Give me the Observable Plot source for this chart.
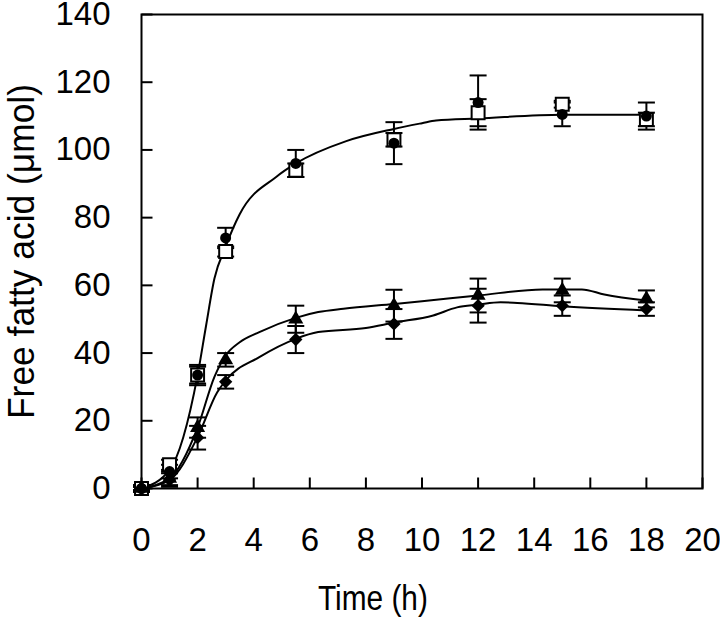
<!DOCTYPE html>
<html>
<head>
<meta charset="utf-8">
<script src="https://cdn.jsdelivr.net/npm/d3@7"></script>
<script src="https://cdn.jsdelivr.net/npm/@observablehq/plot@0.6"></script>
<style>
  html, body { margin: 0; padding: 0; background: #fff; }
  #chart svg { display: block; }
</style>
</head>
<body>
<div id="chart"></div>
<script>
// ---- data ----
const times = [0, 1, 2, 3, 5.5, 9, 12, 15, 18];
const squareMean = [0, 7, 33.5, 70, 94, 103, 111, 113.5, 109];
const squareErr  = [1, 1.5, 2.5, 1.5, 2, 2, 4, 1, 2];
const circleMean = [0, 5, 33.5, 74, 96, 102, 114, 110.5, 110];
const circleErr  = [1, 2, 3, 3, 4, 6.2, 8, 3.5, 4];
const triMean = [0, 3, 18, 38, 50, 54, 57, 58.5, 56];
const triErr  = [0.5, 2, 3, 2, 4, 4.7, 5, 3.5, 2.5];
const diaMean = [0, 2.5, 15, 31.5, 44, 48.6, 54, 54, 53];
const diaErr  = [0.5, 2, 3.5, 2, 4, 4.4, 5, 3, 2];

// fitted curves as drawn
const upperT = [0, 1, 2, 2.3, 2.6, 3, 3.5, 4.8, 5.5, 7.3, 9, 10, 10.5, 12, 15, 18];
const upperV = [0, 5.5, 33.5, 48, 62, 71.5, 81, 92, 96, 102.6, 106.2, 107.9, 108.7, 109.3, 110.4, 110.4];
const triT = [0, 1, 2, 2.6, 3, 3.5, 4.2, 5.5, 6.3, 7.2, 9, 10, 12, 14.3, 15.7, 16.5, 18];
const triV = [0, 3, 18, 33, 39.3, 43.2, 46.2, 50.4, 52.1, 53.1, 54.5, 55.3, 57, 58.8, 58.8, 57.3, 55.5];
const diaT = [0, 1, 2, 2.7, 3, 4.2, 5.5, 6.3, 8, 9, 10.4, 11.25, 12, 12.8, 13.4, 15, 18];
const diaV = [0, 2.5, 15.2, 28.4, 31.9, 38.8, 44.2, 46.2, 47.4, 49, 51.1, 53.5, 54.3, 55, 54.8, 53.8, 52.6];

const xTicks = [0, 2, 4, 6, 8, 10, 12, 14, 16, 18, 20];
const yTicks = [0, 20, 40, 60, 80, 100, 120, 140];
const xLabel = "Time (h)";
const yLabel = "Free fatty acid (μmol)";

// ---- build tables ----
const series = (mean, err) => times.map((t, i) => ({t, v: mean[i], lo: mean[i] - err[i], hi: mean[i] + err[i]}));
const sq = series(squareMean, squareErr);
const ci = series(circleMean, circleErr);
const tr = series(triMean, triErr);
const di = series(diaMean, diaErr);
const curve = (T, V) => T.map((t, i) => ({t, v: V[i]}));

// custom symbols
const capSym = {draw(ctx, size) { const r = Math.sqrt(size / Math.PI); ctx.moveTo(-r, 0); ctx.lineTo(r, 0); }};
const tickRight = {draw(ctx, size) { ctx.moveTo(0, 0); ctx.lineTo(11, 0); }};
const tickUp = {draw(ctx, size) { ctx.moveTo(0, 0); ctx.lineTo(0, -11); }};

const FONT = "'Liberation Sans', Arial, Helvetica, sans-serif";

const errMarks = (data) => [
  Plot.ruleX(data, {x: "t", y1: "lo", y2: "hi", stroke: "black", strokeWidth: 2}),
  Plot.dot(data, {x: "t", y: "lo", symbol: capSym, r: 8.5, stroke: "black", fill: "none", strokeWidth: 2}),
  Plot.dot(data, {x: "t", y: "hi", symbol: capSym, r: 8.5, stroke: "black", fill: "none", strokeWidth: 2})
];

const chart = Plot.plot({
  width: 720,
  height: 618,
  marginLeft: 141,
  marginRight: 18,
  marginTop: 14,
  marginBottom: 130,
  style: {fontFamily: FONT, background: "#fff", overflow: "visible"},
  x: {domain: [0, 20], axis: null},
  y: {domain: [0, 140], axis: null},
  marks: [
    Plot.frame({stroke: "black", strokeWidth: 2}),
    Plot.dot(yTicks, {y: d => d, frameAnchor: "left", symbol: tickRight, stroke: "black", strokeWidth: 2, fill: "none"}),
    Plot.dot(xTicks, {x: d => d, frameAnchor: "bottom", symbol: tickUp, stroke: "black", strokeWidth: 2, fill: "none"}),
    Plot.text(yTicks, {y: d => d, text: d => String(d), frameAnchor: "left", dx: -31, textAnchor: "end", lineAnchor: "middle", fontSize: 33, fill: "black", className: "ytl"}),
    Plot.text(xTicks, {x: d => d, text: d => String(d), frameAnchor: "bottom", dy: 52, textAnchor: "middle", lineAnchor: "middle", fontSize: 33, fill: "black", className: "xtl"}),
    Plot.text([xLabel], {text: d => d, frameAnchor: "bottom", x: () => 8.25, dy: 110, textAnchor: "middle", lineAnchor: "middle", fontSize: 35, fill: "black", className: "xlab"}),
    Plot.text([yLabel], {text: d => d, frameAnchor: "left", dx: -119, rotate: -90, textAnchor: "middle", lineAnchor: "middle", fontSize: 36, fill: "black", className: "ylab"}),
    // fitted lines
    Plot.line(curve(upperT, upperV), {x: "t", y: "v", curve: "monotone-x", stroke: "black", strokeWidth: 2}),
    Plot.line(curve(triT, triV), {x: "t", y: "v", curve: "monotone-x", stroke: "black", strokeWidth: 2}),
    Plot.line(curve(diaT, diaV), {x: "t", y: "v", curve: "monotone-x", stroke: "black", strokeWidth: 2}),
    // error bars
    ...errMarks(sq),
    ...errMarks(ci),
    ...errMarks(tr),
    ...errMarks(di),
    // markers
    Plot.dot(sq, {x: "t", y: "v", symbol: "square", r: 7.3, fill: "white", stroke: "black", strokeWidth: 2}),
    Plot.dot(ci, {x: "t", y: "v", symbol: "circle", r: 5.5, fill: "black", stroke: "none"}),
    Plot.dot(tr, {x: "t", y: "v", symbol: "triangle", r: 5.6, fill: "black", stroke: "none"}),
    Plot.dot(di, {x: "t", y: "v", symbol: "diamond2", r: 6, fill: "black", stroke: "none"})
  ]
});
document.getElementById("chart").appendChild(chart);

// condense the axis titles slightly, as in the reference typeface
function condense(sel, len) {
  chart.querySelectorAll(sel + " text").forEach(t => {
    t.setAttribute("textLength", len);
    t.setAttribute("lengthAdjust", "spacingAndGlyphs");
  });
}
condense(".xlab", 110);
condense(".ylab", 335);
</script>
</body>
</html>
